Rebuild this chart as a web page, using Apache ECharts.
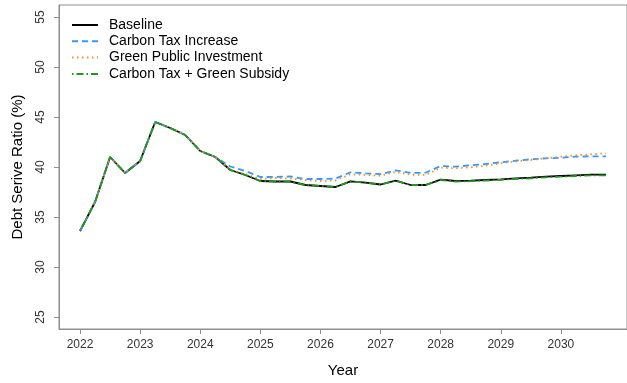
<!DOCTYPE html>
<html>
<head>
<meta charset="utf-8">
<script src="https://cdn.jsdelivr.net/npm/echarts@6/dist/echarts.min.js"></script>
<style>
  html, body { margin: 0; padding: 0; background: #fff; }
  #chart { width: 627px; height: 383px; }
</style>
</head>
<body>
<div id="chart"></div>
<script>
// Quarterly time points (decimal years)
const quarters = [
  2022.00, 2022.25, 2022.50, 2022.75, 2023.00, 2023.25, 2023.50, 2023.75,
  2024.00, 2024.25, 2024.50, 2024.75, 2025.00, 2025.25, 2025.50, 2025.75,
  2026.00, 2026.25, 2026.50, 2026.75, 2027.00, 2027.25, 2027.50, 2027.75,
  2028.00, 2028.25, 2028.50, 2028.75, 2029.00, 2029.25, 2029.50, 2029.75,
  2030.00, 2030.25, 2030.50, 2030.75
];

// Debt service ratio (%) by scenario
const baseline = [
  33.6, 36.5, 41.0, 39.4, 40.6, 44.5, 43.9, 43.2,
  41.6, 41.0, 39.7, 39.2, 38.6, 38.55, 38.55, 38.2,
  38.1, 38.0, 38.57, 38.43, 38.25, 38.63, 38.2, 38.2,
  38.73, 38.6, 38.63, 38.7, 38.77, 38.87, 38.93, 39.03,
  39.1, 39.17, 39.23, 39.23
];
const carbonTax = [
  33.6, 36.5, 41.0, 39.4, 40.6, 44.5, 43.9, 43.2,
  41.6, 41.0, 40.05, 39.6, 39.0, 39.0, 39.05, 38.8,
  38.8, 38.85, 39.47, 39.37, 39.28, 39.67, 39.4, 39.43,
  40.1, 40.03, 40.17, 40.3, 40.47, 40.63, 40.77, 40.87,
  40.93, 41.03, 41.07, 41.07
];
const greenInvestment = [
  33.6, 36.5, 41.0, 39.4, 40.6, 44.5, 43.9, 43.2,
  41.6, 41.0, 39.7, 39.3, 38.8, 38.9, 38.85, 38.7,
  38.6, 38.65, 39.28, 39.22, 39.12, 39.52, 39.23, 39.2,
  39.93, 39.87, 39.97, 40.13, 40.37, 40.57, 40.7, 40.87,
  41.03, 41.17, 41.27, 41.37
];
const taxPlusSubsidy = [
  33.6, 36.5, 41.0, 39.4, 40.6, 44.5, 43.9, 43.2,
  41.6, 41.0, 39.7, 39.2, 38.6, 38.55, 38.55, 38.2,
  38.1, 38.0, 38.57, 38.43, 38.25, 38.63, 38.2, 38.2,
  38.7, 38.55, 38.58, 38.65, 38.72, 38.8, 38.87, 38.97,
  39.03, 39.1, 39.17, 39.17
];

const seriesNames = [
  'Baseline',
  'Carbon Tax Increase',
  'Green Public Investment',
  'Carbon Tax + Green Subsidy'
];
const yearTicks = [2022, 2023, 2024, 2025, 2026, 2027, 2028, 2029, 2030];
const ratioTicks = [25, 30, 35, 40, 45, 50, 55];

const FONT = '"Liberation Sans", Arial, sans-serif';
const AXIS_GREY = '#8f8f8f';

function pairs(values) {
  return quarters.map((q, i) => [q, values[i]]);
}

function lineSeries(name, values, color, type) {
  return {
    name: name,
    type: 'line',
    data: pairs(values),
    symbol: 'none',
    smooth: false,
    lineStyle: { color: color, width: 1.8, type: type, cap: 'butt' },
    itemStyle: { color: color },
    emphasis: { disabled: true },
    animation: false
  };
}

const chart = echarts.init(document.getElementById('chart'), null, { renderer: 'canvas' });

chart.setOption({
  animation: false,
  backgroundColor: '#ffffff',
  textStyle: { fontFamily: FONT },
  grid: {
    left: 59, right: -3.5, top: 5, bottom: 54,
    show: true, borderColor: AXIS_GREY, borderWidth: 1, backgroundColor: 'transparent'
  },
  legend: {
    orient: 'vertical',
    left: 71, top: 18,
    padding: 0,
    itemWidth: 26, itemHeight: 14, itemGap: 2.3,
    data: seriesNames,
    itemStyle: { opacity: 0 },
    textStyle: { fontSize: 14, color: '#000', fontFamily: FONT, padding: [0, 0, 0, 6] },
    selectedMode: false
  },
  xAxis: {
    type: 'value',
    min: 2021.65, max: 2031.1,
    name: 'Year',
    nameLocation: 'middle',
    nameGap: 34,
    nameTextStyle: { fontSize: 15, color: '#000', fontFamily: FONT },
    axisLine: { show: true, lineStyle: { color: AXIS_GREY } },
    axisTick: { show: true, length: 5, lineStyle: { color: AXIS_GREY }, customValues: yearTicks },
    axisLabel: {
      fontSize: 12, color: '#333', margin: 10, fontFamily: FONT,
      customValues: yearTicks,
      formatter: v => String(Math.round(v))
    },
    splitLine: { show: false }
  },
  yAxis: {
    type: 'value',
    min: 23.8, max: 56.2,
    name: 'Debt Serive Ratio (%)',
    nameLocation: 'middle',
    nameGap: 34,
    nameTextStyle: { fontSize: 15, color: '#000', fontFamily: FONT },
    axisLine: { show: true, lineStyle: { color: AXIS_GREY } },
    axisTick: { show: true, length: 5, lineStyle: { color: AXIS_GREY }, customValues: ratioTicks },
    axisLabel: {
      fontSize: 12, color: '#333', margin: 12, rotate: 90, fontFamily: FONT,
      customValues: ratioTicks
    },
    splitLine: { show: false }
  },
  series: [
    lineSeries(seriesNames[0], baseline, '#000000', 'solid'),
    lineSeries(seriesNames[1], carbonTax, '#3399ff', [6, 4]),
    lineSeries(seriesNames[2], greenInvestment, '#ff8c1a', [1.5, 3.5]),
    lineSeries(seriesNames[3], taxPlusSubsidy, '#1f9a1f', [1.5, 3, 7, 3])
  ]
});
</script>
</body>
</html>
